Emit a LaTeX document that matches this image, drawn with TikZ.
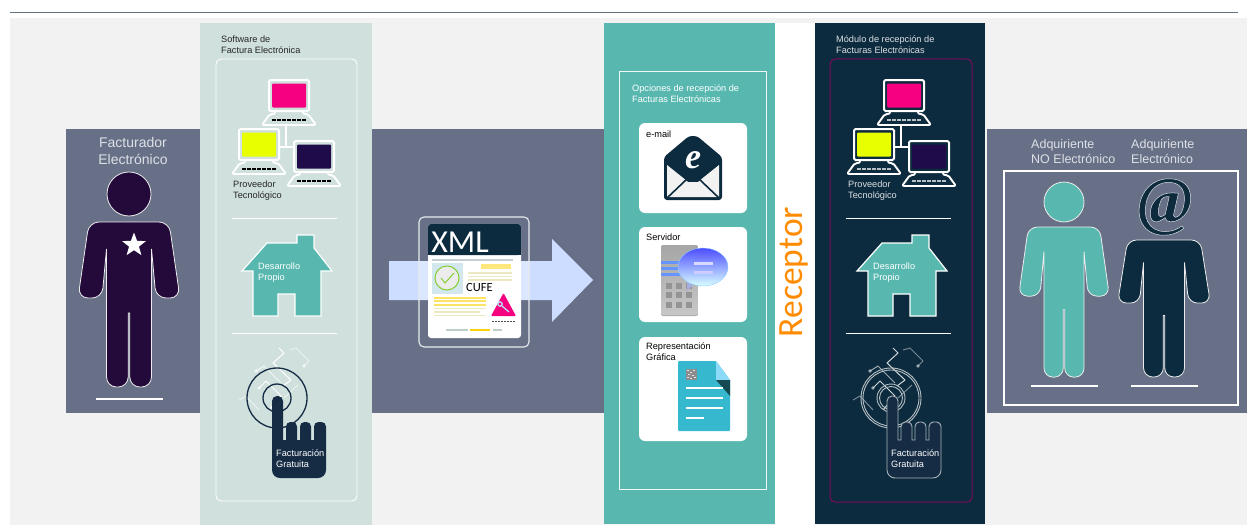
\documentclass[tikz,border=0pt]{standalone}
\usepackage{fontspec}
\usetikzlibrary{shapes.geometric}
\setmainfont{Liberation Sans}
\newfontfamily\carlito{Carlito}
\newfontfamily\serifont{Liberation Serif}
\definecolor{fondo}{HTML}{F2F2F2}
\definecolor{banda}{HTML}{677086}
\definecolor{claro}{HTML}{CFE0DD}
\definecolor{teal}{HTML}{58B8B0}
\definecolor{navy}{HTML}{0D2B3E}
\definecolor{mano}{HTML}{152C44}
\definecolor{morado}{HTML}{230A3A}
\definecolor{rosa}{HTML}{F5007F}
\definecolor{amarillo}{HTML}{E8FF00}
\definecolor{violeta}{HTML}{1F0A4A}
\definecolor{purpura}{HTML}{7B0A5F}
\definecolor{flecha}{HTML}{CCDDFF}
\definecolor{naranja}{HTML}{FF8C00}
\definecolor{gristxt}{HTML}{DDE0E5}
\definecolor{azuldoc}{HTML}{36B8CE}
\tikzset{
  lbl/.style={anchor=north west,inner sep=0pt,align=left,yshift=-2.5pt,font=\fontsize{9.2}{11}\selectfont},
  big/.style={anchor=north west,inner sep=0pt,align=left,text=gristxt,font=\fontsize{12.5}{15}\selectfont},
  divisor/.style={draw=white,line width=1pt},
  tarjeta/.style={fill=white,rounded corners=6pt},
  silueta/.style={draw=#1,line width=0.8pt},
  silueta/.default={white!85!gray}
}
% cx, shoulder y, xscale, yscale, fill, radius
\newcommand{\persona}[6]{%
  \begin{scope}[shift={(#1,#2)},xscale=#3,yscale=#4]
    \path[silueta,fill=#5,rounded corners=#6pt]
      (0,0) -- (40,0) -- (51,76) -- (27,76) [sharp corners] -- (22.5,27)
      [rounded corners=#6pt] -- (22.5,165) -- (0.8,165) [sharp corners] -- (0.8,91) -- (-0.8,91)
      [rounded corners=#6pt] -- (-0.8,165) -- (-22.5,165) [sharp corners] -- (-22.5,27)
      [rounded corners=#6pt] -- (-27,76) -- (-51,76) -- (-40,0) -- cycle;
  \end{scope}}
% x, y, screen colour, key colour
\newcommand{\equipo}[4]{%
  \begin{scope}[shift={(#1,#2)}]
    \draw[white,line width=1.9pt,line join=round,rounded corners=2pt] (6,31) -- (6,34) -- (1,34) -- (-7,45) -- (47,45) -- (39,34) -- (34,34) -- (34,31);
    \draw[white,line width=2pt,rounded corners=1.5pt] (0,0) rectangle (40,31);
    \fill[#3,rounded corners=1pt] (3,3.5) rectangle (37,27.5);
    \draw[#4,line width=1.4pt,dash pattern=on 4pt off 1pt] (3,40) -- (37,40);
  \end{scope}}
% x, y, screen/key colour set
\newcommand{\trio}[3]{%
  \begin{scope}[shift={(#1,#2)}]
    \draw[white,line width=2.2pt] (17,44) -- (17,67) (10,67) -- (26,67);
    \equipo{0}{0}{rosa}{#3}
    \equipo{-30}{49}{amarillo}{#3}
    \equipo{25}{61}{violeta}{#3}
  \end{scope}}
\newcommand{\casa}[3]{%
  \begin{scope}[shift={(#1,#2)}]
    \draw[white,line width=1.2pt,fill=teal,line join=miter]
      (0,36) -- (25,8) -- (55,8) -- (55,0) -- (72,0) -- (72,13) -- (90,36) -- (79,36) -- (79,81)
      -- (53,81) -- (53,59) -- (36,59) -- (36,81) -- (11,81) -- (11,36) -- cycle;
  \end{scope}}
\newcommand{\circuito}[3]{%
  \begin{scope}[shift={(#1,#2)},draw=#3,line width=1pt,line join=round]
    \draw (2,-50) -- (7,-45) -- (-4,-35) -- (14,-18) -- (6,-12);
    \draw (-18,-10) -- (-11,-17) -- (4,-2) -- (-8,12);
    \draw[opacity=.55] (12,-48) -- (19,-50) -- (32,-37) -- (27,-32);
    \draw[opacity=.55] (-38,2) -- (-31,-2) -- (-18,12);
    \draw[opacity=.75] (-21,-27) -- (-13,-32) -- (4,-15);
    \draw[opacity=.55] (21,-13) -- (7,0);
    \fill[#3,opacity=.7] (-18,-10) circle (1.8) (27,-32) circle (1.8) (-21,-27) circle (1.8);
  \end{scope}}
% x, y of top-left of the finger
\newcommand{\dedos}[3]{%
  \path[#3] (#1,#2) ++(0,42) [rounded corners=5pt] -- ++(0,-42) -- ++(11,0) [sharp corners] -- ++(0,44) -- ++(3,0)
    [rounded corners=4.5pt] -- ++(0,-18) -- ++(11,0) [sharp corners] -- ++(0,18) -- ++(3,0)
    [rounded corners=4.5pt] -- ++(0,-18) -- ++(11,0) [sharp corners] -- ++(0,18) -- ++(3,0)
    [rounded corners=4.5pt] -- ++(0,-18) -- ++(12,0) [rounded corners=8pt] -- ++(0,56) -- ++(-54,0) -- ++(0,-40) -- cycle;}
\begin{document}
\begin{tikzpicture}[x=1pt,y=-1pt]
\useasboundingbox (0,0) rectangle (1247,527);
\fill[white] (0,0) rectangle (1247,527);
\fill[fondo] (10,18) rectangle (1247,525);
\draw[black!65!cyan!60!gray,line width=0.8pt] (10,12) -- (1238,12);
% bands
\fill[banda] (66,129) rectangle (604,413);
\fill[banda] (987,129) rectangle (1247,413);
% left panel
\fill[claro] (200,23) rectangle (372,525);
\draw[white,line width=0.9pt,rounded corners=5pt] (216,59) rectangle (357,501);
\node[lbl,text=black!85] (softw) at (221,33) {Software de\\Factura Electrónica};
\trio{269}{80}{black}
\node[lbl,text=black!85] (prov1) at (233,178) {Proveedor\\Tecnológico};
\draw[divisor] (232,218) -- (337,218);
\draw[divisor] (232,333) -- (337,333);
\casa{242}{235}{x}
\node[lbl,text=white] (des1) at (258,260) {Desarrollo\\Propio};
\circuito{277}{398}{white}
\draw[mano,line width=1.3pt] (277,398) circle (30) (277,398) circle (14);
\dedos{272}{396}{fill=mano}
\node[lbl,text=white] (fac1) at (276,447) {Facturación\\Gratuita};
% Facturador
\node[big,anchor=north,align=center,font=\fontsize{14}{17}\selectfont] (factu) at (133,137) {Facturador\\Electrónico};
\path[silueta,fill=morado] (129,194) circle (22);
\persona{129}{222}{1}{1}{morado}{10}
\node[star,star points=5,star point ratio=2.4,fill=white,inner sep=0pt,minimum size=25pt] (estrella) at (134,245) {};
\draw[white,line width=2pt] (96,399) -- (163,399);
% arrow + document
\fill[flecha] (389,261) -- (552,261) -- (552,239) -- (593,280) -- (552,322) -- (552,300) -- (389,300) -- cycle;
\fill[white,opacity=.3] (419,261) rectangle (529,300);
\draw[white!85!banda,line width=1.1pt,rounded corners=5pt] (419,217) rectangle (529,347);
\fill[white,rounded corners=3pt] (428,224) rectangle (521,338);
\fill[navy,rounded corners=3pt] (428,224) rectangle (521,255);
\fill[navy] (428,245) rectangle (521,255);
\node[inner sep=0pt,text=white,font=\carlito\fontsize{32}{32}\selectfont] (xml) at (460,242) {XML};
\fill[black!10!cyan!20!gray!45] (432,258.5) rectangle (513,260.5);
\fill[gray!50!cyan!25!white] (432,263) rectangle (463,294);
\draw[green!60!black!60!yellow!80!white,line width=1pt,fill=white!85!gray] (447,278) circle (12);
\draw[green!60!black!60!yellow!80!white,line width=1pt] (441,278) -- (445,283) -- (454,273);
\fill[yellow!70!orange!50!white] (481,264) rectangle (511,269);
\foreach \yy in {272,275.5,279}{\fill[gray!50!yellow!35!white] (468,\yy) rectangle (512,\yy+1.5);}
\node[anchor=west,inner sep=0pt,text=black,font=\carlito\fontsize{12.5}{13}\selectfont] (cufe) at (466,287) {CUFE};
\foreach \yy/\xa in {297/434,300/434,304/434}{\fill[yellow!70!orange!60!white] (\xa,\yy) rectangle (486,\yy+1.5);}
\foreach \yy/\xb in {307.5/486,311/480,314.5/486}{\fill[gray!50!yellow!35!white] (434,\yy) rectangle (\xb,\yy+1.5);}
\fill[rosa,rounded corners=1pt] (503.5,293) -- (516,316) -- (491,316) -- cycle;
\draw[cyan!30!white,line width=1.2pt] (500,304) circle (2.2) (502,306) -- (509,312);
\draw[black!70,line width=1pt,dash pattern=on 2pt off 1pt] (492,321) -- (515,321);
\fill[claro!80!gray] (446,329) rectangle (468,331);
\fill[yellow!70!orange] (470,329) rectangle (490,331);
\fill[claro!80!gray] (493,329) rectangle (502,331);
% teal panel
\fill[teal] (604,23) rectangle (775,524);
\fill[white] (775,23) rectangle (815,525);
\draw[white!90!teal,line width=0.9pt] (619,71) rectangle (766,489);
\node[lbl,text=white] (opc) at (632,82) {Opciones de recepción de\\Facturas Electrónicas};
\fill[tarjeta] (639,123) rectangle (747,213);
\fill[tarjeta] (639,227) rectangle (747,322);
\fill[tarjeta] (639,337) rectangle (747,441);
\node[lbl,text=black] (mail) at (646,128) {e-mail};
\node[lbl,text=black] (serv) at (646,231) {Servidor};
\node[lbl,text=black] (repr) at (646,340) {Representación\\Gráfica};
% envelope
\fill[navy,rounded corners=3pt] (664,157) -- (689,136) -- (697,136) -- (722,157) -- (722,200) -- (664,200) -- cycle;
\fill[fondo,line join=round] (667,165) -- (682,177) -- (688,182) -- (698,182) -- (704,177) -- (719,165) -- (719,197) -- (667,197) -- cycle;
\draw[navy,line width=1.6pt] (667,198) -- (688,178) (719,198) -- (698,178);
\node[inner sep=0pt,text=white,font=\serifont\bfseries\itshape\fontsize{36}{36}\selectfont] (elet) at (693,160) {e};
% server
\fill[black!55,opacity=.6,rounded corners=2pt] (661,311) rectangle (698,316);
\shade[top color=black!35,bottom color=black!22,rounded corners=2pt] (661,245) rectangle (698,315);
\foreach \xx in {669,679,689}{\foreach \yy in {286,295,305}{\fill[black!42] (\xx-3,\yy-3) rectangle (\xx+3,\yy+3);}}
\foreach \yy in {262,268,274}{\fill[blue!70!cyan!60!white] (661,\yy-1.5) rectangle (682,\yy+1.5);}
\fill[cyan!30!blue!35!white] (687,282) -- (687,291) -- (695,283) -- cycle;
\shade[top color=blue!70!white,middle color=blue!40!cyan!55!white,bottom color=cyan!15!white,draw=blue!45!cyan!45!white] (703,267) ellipse (25 and 19);
\fill[white!85!blue] (694,261.5) rectangle (713,264.5);
\fill[white!80!blue] (694,270.5) rectangle (713,273.5);
% file icon
\fill[azuldoc,rounded corners=1pt] (678,361) -- (716,361) -- (730,380) -- (730,431) -- (678,431) -- cycle;
\fill[cyan!45!white] (716,361) -- (730,380) -- (716,380) -- cycle;
\fill[azuldoc!40!black] (716,380) -- (730,380) -- (730,396) -- cycle;
\fill[black!45] (686,369) rectangle (697,380);
\foreach \xx/\yy in {687/370,690/372,693/370,688/374,692/375,694/377,687/377,690/378}{\fill[white!80!gray] (\xx,\yy) rectangle (\xx+1.5,\yy+1);}
\foreach \yy in {388,398,408}{\fill[white] (686,\yy-1.2) rectangle (723,\yy+1.2);}
\fill[white] (686,416.8) rectangle (704,419.2);
% Receptor
\node[rotate=90,inner sep=0pt,text=naranja,font=\carlito\fontsize{35.5}{36}\selectfont] (recep) at (794,272) {Receptor};
% dark panel
\fill[navy] (815,23) rectangle (985,524);
\draw[purpura,line width=1pt,rounded corners=5pt] (830,59) rectangle (972,502);
\node[lbl,text=gristxt] (modu) at (836,33) {Módulo de recepción de\\Facturas Electrónicas};
\trio{884}{80}{white!70!navy}
\node[lbl,text=gristxt] (prov2) at (848,178) {Proveedor\\Tecnológico};
\draw[divisor] (846,218) -- (951,218);
\draw[divisor] (846,333) -- (951,333);
\casa{857}{235}{x}
\node[lbl,text=white] (des2) at (873,260) {Desarrollo\\Propio};
\circuito{891}{398}{white!80!navy}
\draw[white!70!navy,line width=0.9pt] (891,398) circle (30) (891,398) circle (28) (891,398) circle (14) (891,398) circle (11.5);
\dedos{887}{396}{fill=mano,draw=white!65!navy,line width=0.9pt}
\node[lbl,text=white] (fac2) at (891,447) {Facturación\\Gratuita};
% right side
\draw[white,line width=2.2pt] (1004,171) rectangle (1238,405);
\node[big] (adq1) at (1031,139) {Adquiriente\\NO Electrónico};
\node[big] (adq2) at (1131,139) {Adquiriente\\Electrónico};
\path[silueta,fill=teal] (1064,202) circle (20);
\persona{1064}{227}{0.89}{0.91}{teal}{9}
\persona{1164}{240}{0.91}{0.83}{navy}{9}
\node[inner sep=0pt,font=\serifont\bfseries\itshape\fontsize{66}{66}\selectfont] (arroba) at (1165,207)
  {\special{pdf:bcolor [0.05 0.17 0.24] [0.85 0.87 0.9]}\special{pdf:code q 2 Tr 0.5 w}@\special{pdf:code Q}\special{pdf:ecolor}};
\draw[white,line width=1.6pt] (1031,386) -- (1098,386) (1131,386) -- (1198,386);
\end{tikzpicture}
\end{document}
